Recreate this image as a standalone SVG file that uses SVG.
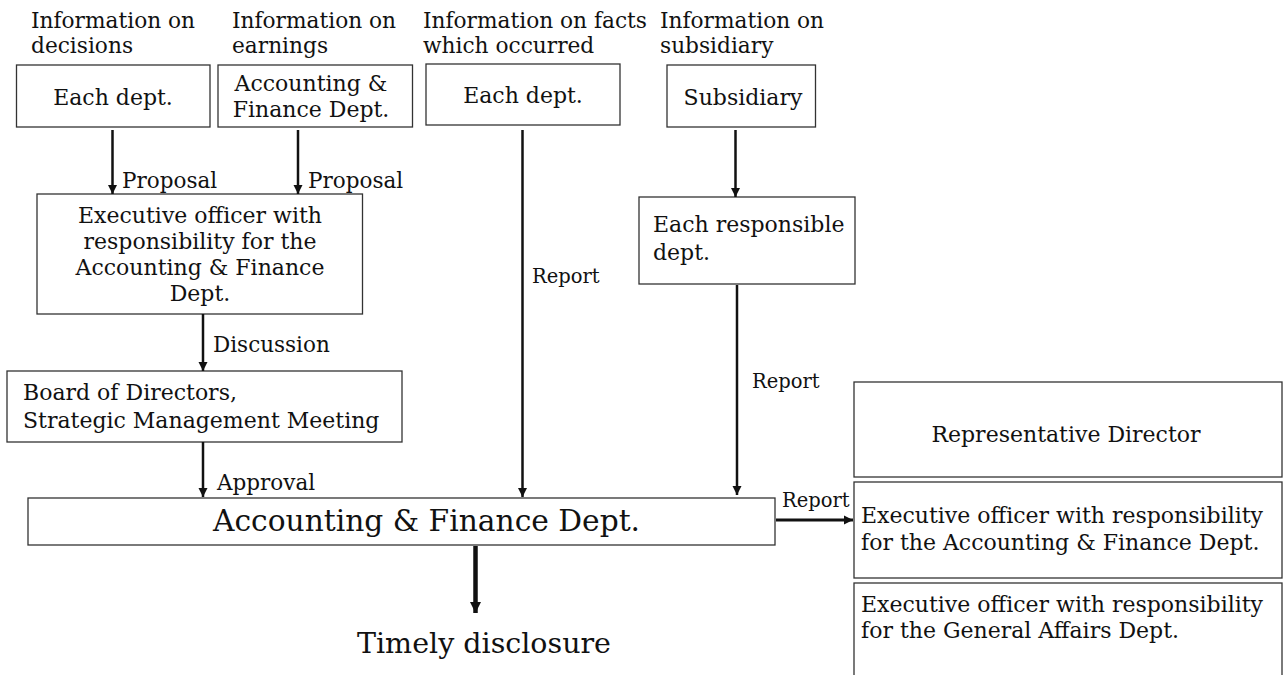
<svg xmlns="http://www.w3.org/2000/svg" width="1284" height="675" viewBox="0 0 1284 675">
<style>
text{font-family:"DejaVu Serif","Liberation Serif",serif;fill:#111}
.h{font-size:21.7px}
.b{font-size:22px}
.l{font-size:21.5px}
.r{font-size:19.5px}
.big{font-size:29.7px}
.box{fill:#fff;stroke:#333;stroke-width:1.3}
.c{stroke:#111;stroke-width:2.5;fill:none}
</style>
<defs>
<marker id="ah" viewBox="0 0 10 10" refX="10" refY="5" markerWidth="9" markerHeight="10" markerUnits="userSpaceOnUse" orient="auto"><path d="M0,0 L10,5 L0,10 z" fill="#111"/></marker>
<marker id="ah2" viewBox="0 0 10 10" refX="10" refY="5" markerWidth="11" markerHeight="13" markerUnits="userSpaceOnUse" orient="auto"><path d="M0,0 L10,5 L0,10 z" fill="#111"/></marker>
</defs>
<g id="headers">
<text class="h" x="31" y="28">Information on</text>
<text class="h" x="31" y="53">decisions</text>
<text class="h" x="232" y="28">Information on</text>
<text class="h" x="232" y="53">earnings</text>
<text class="h" x="423" y="28">Information on facts</text>
<text class="h" x="423" y="53">which occurred</text>
<text class="h" x="660" y="28">Information on</text>
<text class="h" x="660" y="53">subsidiary</text>
</g>
<g id="n-each1"><rect class="box" x="16.5" y="65" width="193.5" height="62"/><text class="b" x="113" y="105" text-anchor="middle">Each dept.</text></g>
<g id="n-af-top"><rect class="box" x="218" y="65" width="194.5" height="62"/><text class="b" x="311" y="91" text-anchor="middle">Accounting &amp;</text><text class="b" x="311" y="117" text-anchor="middle">Finance Dept.</text></g>
<g id="n-each3"><rect class="box" x="426" y="64" width="194" height="61"/><text class="b" x="523" y="103" text-anchor="middle">Each dept.</text></g>
<g id="n-sub"><rect class="box" x="667" y="65" width="148.5" height="62"/><text class="b" x="743" y="105" text-anchor="middle">Subsidiary</text></g>
<g id="n-resp"><rect class="box" x="639" y="197" width="216" height="87"/><text class="b" x="653" y="232">Each responsible</text><text class="b" x="653" y="260">dept.</text></g>
<g id="n-exec"><rect class="box" x="37" y="194" width="325.5" height="120"/>
<text class="b" x="200" y="223" text-anchor="middle">Executive officer with</text>
<text class="b" x="200" y="249" text-anchor="middle">responsibility for the</text>
<text class="b" x="200" y="275" text-anchor="middle">Accounting &amp; Finance</text>
<text class="b" x="200" y="301" text-anchor="middle">Dept.</text></g>
<g id="n-board"><rect class="box" x="7" y="371" width="395" height="71"/>
<text class="b" x="23" y="400">Board of Directors,</text>
<text class="b" x="23" y="428">Strategic Management Meeting</text></g>
<g id="n-af"><rect class="box" x="28" y="498" width="747" height="47"/><text class="big" x="426.5" y="531" text-anchor="middle">Accounting &amp; Finance Dept.</text></g>
<g id="n-rep"><rect class="box" x="854" y="382" width="428" height="95"/><text class="b" x="1066" y="442" text-anchor="middle">Representative Director</text></g>
<g id="n-execaf"><rect class="box" x="854" y="482" width="428" height="96"/><text class="b" x="861" y="523">Executive officer with responsibility</text><text class="b" x="861" y="550">for the Accounting &amp; Finance Dept.</text></g>
<g id="n-execga"><rect class="box" x="854" y="583" width="428" height="100"/><text class="b" x="861" y="612">Executive officer with responsibility</text><text class="b" x="861" y="638">for the General Affairs Dept.</text></g>
<g id="n-timely"><text class="big" x="484" y="653" text-anchor="middle" style="font-size:28.5px">Timely disclosure</text></g>
<g id="connectors">
<line class="c" x1="112.5" y1="130" x2="112.5" y2="194" marker-end="url(#ah)"/>
<line class="c" x1="298" y1="130" x2="298" y2="194" marker-end="url(#ah)"/>
<line class="c" x1="203" y1="314" x2="203" y2="371" marker-end="url(#ah)"/>
<line class="c" x1="203" y1="442" x2="203" y2="497" marker-end="url(#ah)"/>
<line class="c" x1="522.5" y1="130" x2="522.5" y2="497" marker-end="url(#ah)"/>
<line class="c" x1="735.5" y1="130" x2="735.5" y2="197" marker-end="url(#ah)"/>
<line class="c" x1="737" y1="285" x2="737" y2="495" marker-end="url(#ah)"/>
<line class="c" x1="776" y1="520" x2="853" y2="520" style="stroke-width:3" marker-end="url(#ah)"/>
<line class="c" x1="475.5" y1="546" x2="475.5" y2="613" style="stroke-width:4.5" marker-end="url(#ah2)"/>
<text class="l" x="122" y="188">Proposal</text>
<text class="l" x="308" y="188">Proposal</text>
<text class="l" x="213" y="352">Discussion</text>
<text class="l" x="217" y="490">Approval</text>
<text class="r" x="532" y="283">Report</text>
<text class="r" x="752" y="388">Report</text>
<text class="r" x="782" y="507">Report</text>
</g>
</svg>
